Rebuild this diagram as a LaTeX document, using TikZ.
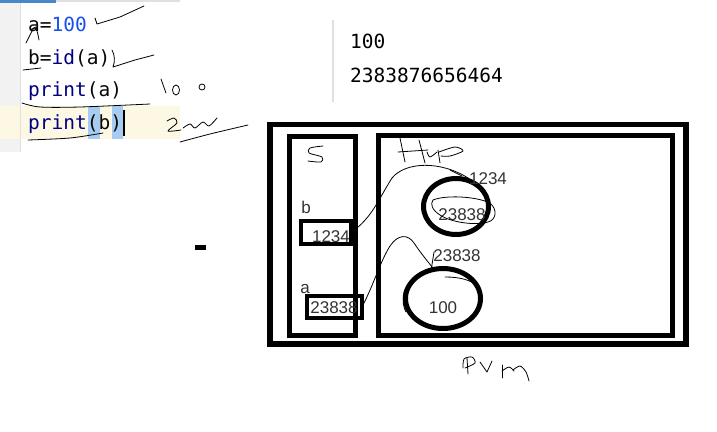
\documentclass[tikz,border=0pt]{standalone}
\usepackage{fontspec}
\setmainfont{Liberation Sans}
\newfontfamily\codefont{DejaVu Sans Mono}
\usetikzlibrary{shapes.geometric}
\definecolor{gutter}{HTML}{F2F2F2}
\definecolor{curline}{HTML}{FCF8E3}
\definecolor{brace}{HTML}{A6CCF2}
\definecolor{numblue}{HTML}{1750EB}
\definecolor{navy}{HTML}{000080}
\definecolor{codeink}{HTML}{080808}
\definecolor{diagink}{HTML}{333333}
\definecolor{sepgray}{HTML}{E0E0E0}
\definecolor{tabblue}{HTML}{4A86C8}
\tikzset{
  codetxt/.style={anchor=base west, inner sep=0pt, font=\codefont\fontsize{19.5}{20}\selectfont, text=codeink},
  outtxt/.style={anchor=base west, inner sep=0pt, font=\codefont\fontsize{19.5}{20}\selectfont, text=black},
  frame/.style={draw=black, line width=5.5pt, fill=none, inner sep=0pt, outer sep=0pt},
  memcell/.style={draw=black, line width=4.5pt, inner sep=0pt, outer sep=0pt},
  objring/.style={ellipse, draw=black, line width=5pt, inner sep=0pt, outer sep=0pt},
  lbl/.style={inner sep=0pt, font=\fontsize{17}{18}\selectfont, text=diagink},
  pen/.style={draw=black, line width=0.8pt, line cap=round, line join=round},
}
\begin{document}
\begin{tikzpicture}[x=1pt,y=-1pt]
\useasboundingbox (0,0) rectangle (717,431);
\fill[white] (0,0) rectangle (717,431);
% ---------- editor ----------
\fill[gutter] (0,0) rectangle (20,152);
\fill[curline] (0,106) rectangle (180,139);
\draw[sepgray, line width=1pt] (20,0) -- (20,152);
\fill[tabblue] (0,0) rectangle (56,3);
\fill[sepgray] (56,0) rectangle (180,2);
\fill[brace] (88,106) rectangle (99.5,139);
\fill[brace] (112,106) rectangle (123,139);
\node[codetxt] (l1) at (28,31) {a=\textcolor{numblue}{100}};
\node[codetxt] (l2) at (28,64) {b=\textcolor{navy}{id}(a)};
\node[codetxt] (l3) at (28,96) {\textcolor{navy}{print}(a)};
\node[codetxt] (l4) at (28,129) {\textcolor{navy}{print}(b)};
\draw[black, line width=1.5pt] (124,110) -- (124,136);
% ---------- output ----------
\draw[sepgray, line width=1.5pt] (333,20) -- (333,102);
\node[outtxt] (o1) at (350,48) {100};
\node[outtxt] (o2) at (350,82) {2383876656464};
% ---------- mark ----------
\fill[black] (195,245) rectangle (206,250);
% ---------- memory diagram ----------
\node[frame, minimum width=416pt, minimum height=219.5pt] (jvm) at (478,234.25) {};
\node[frame, line width=5pt, minimum width=66.5pt, minimum height=199.5pt] (stack) at (322.25,235.75) {};
\node[frame, line width=5pt, minimum width=294.5pt, minimum height=200pt] (heap) at (525.25,235) {};
\node[memcell, minimum width=50pt, minimum height=23pt] (bbox) at (326,232.5) {};
\node[memcell, minimum width=55pt, minimum height=22pt] (abox) at (334.5,307) {};
\node[objring, minimum width=65pt, minimum height=56pt] (c1) at (456,206.5) {};
\node[objring, minimum width=75pt, minimum height=60pt] (c2) at (443,298.5) {};
\node[lbl] (bl) at (306,207) {b};
\node[lbl] (al) at (305,289) {a};
\node[lbl] (bv) at (331,236.5) {1234};
\node[lbl] (av) at (334,307.5) {23838};
\node[lbl] (c1l) at (488,178.5) {1234};
\node[lbl] (c1v) at (462,215) {23838};
\node[lbl] (c2l) at (457,256) {23838};
\node[lbl] (c2v) at (443,307.5) {100};
% hand-drawn links
\draw[pen] (bbox.east) .. controls (372,218) and (378,200) .. (392,178) .. controls (405,162) and (440,160) .. (c1l.west);
\draw[pen] (450,170) -- (462,176);
\draw[pen] (abox.east) .. controls (374,284) and (380,262) .. (390,246) .. controls (398,234) and (408,234) .. (414,243) .. controls (420,252) and (428,262) .. (433,268);
\draw[pen] (434,252) -- (431,271);
\draw[pen] (433,200) .. controls (445,195) and (475,196) .. (490,203) .. controls (498,210) and (496,220) .. (488,222) .. controls (475,226) and (450,222) .. (440,215) .. controls (432,210) and (430,204) .. cycle;
\draw[pen] (445,277) .. controls (460,277) and (472,280) .. (478,287);
\draw[pen] (407,286) .. controls (402,292) and (402,305) .. (406,312);
% handwriting: S, Hup, Pvm
\draw[pen] plot[smooth] coordinates {(323,146) (310,148) (309,153) (322,157) (321,162) (308,161)};
\draw[pen] (400,138) -- (405,162);
\draw[pen] (398,152) -- (428,150);
\draw[pen] (419,140) -- (425,163);
\draw[pen] plot[smooth] coordinates {(427,152) (430,157) (437,152)};
\draw[pen] plot[smooth] coordinates {(438,150) (440,163)};
\draw[pen] plot[smooth] coordinates {(439,152) (455,147) (463,151) (450,156) (441,156)};
\draw[pen] (467,358) -- (468,374);
\draw[pen] plot[smooth] coordinates {(463,368) (464,359) (472,357) (475,363) (465,368)};
\draw[pen] (480,362) -- (487,372) -- (492,361);
\draw[pen] (502,365) -- (502,378);
\draw[pen] plot[smooth] coordinates {(502,371) (509,367) (514,371)};
\draw[pen] plot[smooth] coordinates {(513,370) (520,366) (526,372) (529,381)};
% scribbles on code
\draw[pen] plot[smooth] coordinates {(26,43) (30,35) (34,28) (37,31) (39,40)};
\draw[pen] (30,30) -- (36,27);
\draw[pen] (95,18) -- (97,24) -- (120,17) -- (144,6);
\draw[pen] (112,50) .. controls (115,55) and (115,62) .. (113,67) -- (135,60) -- (154,55);
\draw[pen] (23,70) -- (41,68);
\draw[pen] plot[smooth] coordinates {(22,103) (40,107) (80,107) (150,104)};
\draw[pen] plot[smooth] coordinates {(28,140) (70,138) (103,133)};
\draw[pen] (161,79) -- (166,93);
\draw[pen] (176,90) ellipse (3.5pt and 5pt);
\draw[pen] (202,87) ellipse (3pt and 3pt);
\draw[pen] plot[smooth] coordinates {(167,121) (174,118) (177,123) (168,131) (181,130)};
\draw[pen] plot[smooth] coordinates {(183,128) (190,124) (195,128) (203,122) (209,126) (217,118)};
\draw[pen] plot[smooth] coordinates {(180,142) (210,134) (248,125)};
\end{tikzpicture}
\end{document}
